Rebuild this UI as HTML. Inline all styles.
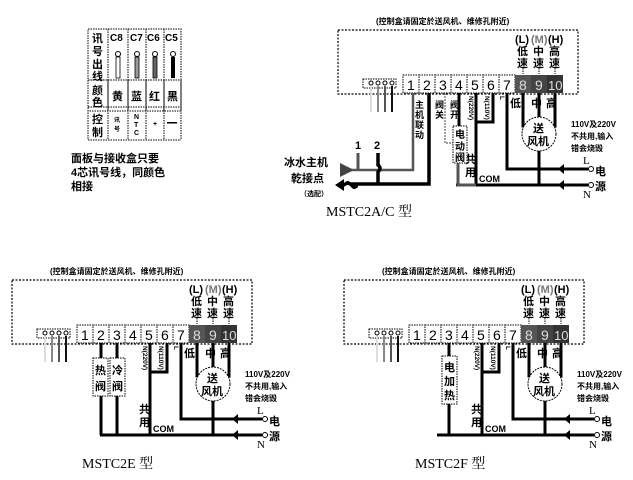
<!DOCTYPE html>
<html><head><meta charset="utf-8"><style>
html,body{margin:0;padding:0;background:#fff;}
svg{display:block;}
text{font-family:"Liberation Sans","Noto Sans CJK SC",sans-serif;font-weight:bold;fill:#000;}
.s{font-size:8px;}
.m{font-size:11px;}
.ser{font-family:"Liberation Serif","Noto Serif CJK SC",serif;font-weight:normal;font-size:14px;}
</style></head><body>
<svg width="633" height="480" viewBox="0 0 633 480" xmlns="http://www.w3.org/2000/svg">
<defs>
<g id="common">
  <text x="50" y="274" class="s">(控制盒请固定於送风机、维修孔附近)</text>
  <rect x="12" y="280" width="240" height="64" fill="none" stroke="#000" stroke-width="1.2" stroke-dasharray="2,1.5"/>
  <text x="189" y="293" class="m">(L)</text><text x="205" y="293" class="m" style="fill:#777">(M)</text><text x="222" y="293" class="m">(H)</text>
  <text x="191" y="305" class="m">低</text><text x="207" y="305" class="m">中</text><text x="223" y="305" class="m">高</text>
  <text x="191" y="317" class="m">速</text><text x="207" y="317" class="m">速</text><text x="223" y="317" class="m">速</text>
  <g stroke="#000" stroke-width="1" stroke-dasharray="1.5,1"><line x1="197" y1="318" x2="197" y2="324"/><line x1="213" y1="318" x2="213" y2="324"/><line x1="229" y1="318" x2="229" y2="324"/></g>
  <rect x="37" y="329" width="33" height="9" fill="#fff" stroke="#000" stroke-dasharray="1.5,1"/>
  <g fill="#fff" stroke="#000"><circle cx="45" cy="333" r="2"/><circle cx="52" cy="333" r="2"/><circle cx="59" cy="333" r="2"/><circle cx="66" cy="333" r="2"/></g>
  <g stroke-width="2"><line x1="45" y1="336" x2="45" y2="362" stroke="#ddd"/><line x1="52" y1="336" x2="52" y2="362" stroke="#888"/><line x1="59" y1="336" x2="59" y2="362" stroke="#555"/><line x1="66" y1="336" x2="66" y2="362" stroke="#111"/></g>
  <g stroke="#000" stroke-width="1" stroke-dasharray="1.5,1" fill="#fff">
    <rect x="77" y="325" width="16" height="18"/><rect x="93" y="325" width="16" height="18"/><rect x="109" y="325" width="16" height="18"/><rect x="125" y="325" width="16" height="18"/><rect x="141" y="325" width="16" height="18"/><rect x="157" y="325" width="16" height="18"/><rect x="173" y="325" width="16" height="18"/>
  </g>
  <rect x="189" y="325" width="16" height="18" fill="#555"/><rect x="205" y="325" width="16" height="18" fill="#444"/><rect x="221" y="325" width="16" height="18" fill="#333"/>
  <text x="81" y="340" style="font-weight:normal;font-size:14px">1</text><text x="97" y="340" style="font-weight:normal;font-size:14px">2</text><text x="113" y="340" style="font-weight:normal;font-size:14px">3</text><text x="129" y="340" style="font-weight:normal;font-size:14px">4</text><text x="145" y="340" style="font-weight:normal;font-size:14px">5</text><text x="161" y="340" style="font-weight:normal;font-size:14px">6</text><text x="177" y="340" style="font-weight:normal;font-size:14px">7</text>
  <text x="193" y="340" style="font-weight:normal;font-size:14px;fill:#ddd">8</text><text x="209" y="340" style="font-weight:normal;font-size:14px;fill:#ddd">9</text><text x="222" y="340" style="font-weight:normal;font-size:13px;fill:#ddd">10</text>
  <text transform="translate(143,346) rotate(90)" style="font-size:6.5px">N(220V)</text>
  <text transform="translate(159,346) rotate(90)" style="font-size:6.5px">N(110V)</text>
  <text transform="translate(174,346) rotate(90)" style="font-size:6.5px">L</text>
  <path d="M150,343 V436" stroke="#000" stroke-width="3" fill="none"/>
  <path d="M167,343 V372 H150" stroke="#000" stroke-width="3" fill="none"/>
  <text x="139" y="413" class="m">共</text><text x="139" y="426" class="m">用</text>
  <text x="153" y="432" style="font-size:9px">COM</text>
  <text x="184" y="357" class="m">低</text><text x="205" y="357" class="m">中</text><text x="220" y="357" class="m">高</text>
  <path d="M197,343 V376 H201" stroke="#000" stroke-width="3" fill="none"/>
  <path d="M213,343 V368" stroke="#000" stroke-width="3" fill="none"/>
  <path d="M229,343 V376 H225" stroke="#000" stroke-width="3" fill="none"/>
  <circle cx="213" cy="384" r="17" fill="#fff" stroke="#000" stroke-dasharray="2,1"/>
  <text x="207" y="382" class="m">送</text><text x="201" y="395" class="m">风机</text>
  <text x="245" y="377" class="s">110V及220V</text><text x="245" y="389" class="s">不共用,输入</text><text x="245" y="401" class="s">错会烧毁</text>
  <path d="M181,343 V419 H262" stroke="#000" stroke-width="3" fill="none"/>
  <path d="M213,401 V435" stroke="#000" stroke-width="3" fill="none"/>
  <path d="M90,435 H262" stroke="#000" stroke-width="3" fill="none"/>
  <path d="M232,419 l6,-5 v10 z M232,435 l6,-5 v10 z" fill="#000"/>
  <circle cx="265" cy="419" r="2.5" fill="#fff" stroke="#000"/><circle cx="265" cy="435" r="2.5" fill="#fff" stroke="#000"/>
  <text x="257" y="414" class="ser" style="font-size:11px">L</text><text x="257" y="448" class="ser" style="font-size:11px">N</text>
  <text x="269" y="425" class="m">电</text><text x="269" y="440" class="m">源</text>
</g>
</defs>

<g stroke="#000" stroke-width="1" stroke-dasharray="1.5,1" fill="none">
  <rect x="88" y="29" width="93" height="82"/>
  <line x1="88" y1="80" x2="181" y2="80"/><line x1="88" y1="107" x2="181" y2="107"/>
  <line x1="108" y1="29" x2="108" y2="111"/><line x1="128" y1="29" x2="128" y2="111"/><line x1="146" y1="29" x2="146" y2="111"/><line x1="164" y1="29" x2="164" y2="111"/>
  <line x1="88" y1="80" x2="88" y2="140"/><line x1="108" y1="80" x2="108" y2="140"/><line x1="128" y1="80" x2="128" y2="140"/><line x1="146" y1="80" x2="146" y2="140"/><line x1="164" y1="80" x2="164" y2="140"/><line x1="181" y1="80" x2="181" y2="140"/>
  <line x1="88" y1="140" x2="181" y2="140"/>
</g>
<text x="92" y="42" class="m">讯</text><text x="92" y="55" class="m">号</text><text x="92" y="68" class="m">出</text><text x="92" y="80" class="m">线</text>
<text x="92" y="94" class="m">颜</text><text x="92" y="106" class="m">色</text>
<text x="92" y="123" class="m">控</text><text x="92" y="136" class="m">制</text>
<text x="110" y="41" style="font-size:10px">C8</text><text x="130" y="41" style="font-size:10px">C7</text><text x="147" y="41" style="font-size:10px">C6</text><text x="165" y="41" style="font-size:10px">C5</text>
<g stroke="#000" fill="#fff"><circle cx="118" cy="54" r="2.5"/><circle cx="137" cy="54" r="2.5"/><circle cx="155" cy="54" r="2.5"/><circle cx="173" cy="54" r="2.5"/></g>
<rect x="116" y="57" width="4" height="21" fill="#fff" stroke="#000" stroke-width="0.8"/>
<rect x="135" y="57" width="4" height="21" fill="#999" stroke="#000" stroke-width="0.8"/>
<rect x="153" y="57" width="4" height="21" fill="#666" stroke="#000" stroke-width="0.8"/>
<rect x="171" y="57" width="4" height="21" fill="#000"/>
<text x="112" y="100" class="m">黄</text><text x="131" y="100" class="m">蓝</text><text x="149" y="100" class="m">红</text><text x="167" y="100" class="m">黑</text>
<text x="114" y="122" style="font-size:6px">讯</text><text x="114" y="131" style="font-size:6px">号</text>
<text x="134" y="119" style="font-size:7px">N</text><text x="134" y="127" style="font-size:7px">T</text><text x="134" y="135" style="font-size:7px">C</text>
<text x="153" y="126" style="font-size:7px">+</text><rect x="167" y="122" width="10" height="1.5" fill="#000"/>
<text x="71" y="162" style="font-size:11px">面板与接收盒只要</text>
<text x="71" y="176" style="font-size:11px">4芯讯号线，同颜色</text>
<text x="71" y="190" style="font-size:11px">相接</text>

<!-- top diagram -->
<use href="#common" transform="translate(326,-250)"/>
<rect x="405" y="182" width="51" height="6" fill="#fff"/>
<path d="M413,93 V170 H350" stroke="#555" stroke-width="2.5" fill="none"/>
<path d="M429,93 V184 H350" stroke="#000" stroke-width="3.5" fill="none"/>
<text x="415" y="108" style="font-size:9px">主</text><text x="415" y="118" style="font-size:9px">机</text><text x="415" y="128" style="font-size:9px">联</text><text x="415" y="138" style="font-size:9px">动</text>
<text x="355" y="149" class="m">1</text><text x="374" y="149" class="m">2</text>
<line x1="358" y1="153" x2="358" y2="170" stroke="#555" stroke-width="3"/>
<path d="M378,153 V165 q4,3 0,7 V185" stroke="#000" stroke-width="3.5" fill="none"/>
<path d="M340,163 l12,6 v2 l-12,6 z" fill="#444"/>
<path d="M335,185 l9,-6 v4 q4,-4 7,0 q3,4 7,0 v4 q-4,4 -7,0 q-3,-4 -7,0 v4 z" fill="#000"/>
<text x="284" y="166" class="m">冰水主机</text><text x="291" y="182" class="m">乾接点</text>
<text x="300" y="196" style="font-size:7px">（选配）</text>
<text x="435" y="108" style="font-size:9px">阀</text><text x="435" y="118" style="font-size:9px">关</text>
<text x="450" y="108" style="font-size:9px">阀</text><text x="450" y="118" style="font-size:9px">开</text>
<path d="M445,93 V143 H453" stroke="#666" stroke-width="1.2" stroke-dasharray="2,1" fill="none"/>
<path d="M459,93 V126" stroke="#000" stroke-width="3" fill="none"/>
<rect x="453" y="126" width="14" height="37" fill="#fff" stroke="#000" stroke-dasharray="1.5,1"/>
<text x="455" y="138" style="font-size:10px">电</text><text x="455" y="150" style="font-size:10px">动</text><text x="455" y="161" style="font-size:10px">阀</text>
<path d="M458,163 V185 H476" stroke="#555" stroke-width="3" fill="none"/>
<text x="326" y="216" class="ser">MSTC2A/C 型</text>

<!-- bottom left -->
<use href="#common"/>
<rect x="80" y="432" width="20" height="6" fill="#fff"/>
<path d="M101,343 V435 M117,343 V435" stroke="#000" stroke-width="3" fill="none"/>
<path d="M100,435 H150" stroke="#000" stroke-width="3"/>
<rect x="93" y="358" width="15" height="38" fill="#fff" stroke="#000" stroke-dasharray="1.5,1"/>
<rect x="110" y="358" width="15" height="38" fill="#fff" stroke="#000" stroke-dasharray="1.5,1"/>
<text x="95" y="374" class="m">热</text><text x="95" y="390" class="m">阀</text>
<text x="112" y="374" class="m">冷</text><text x="112" y="390" class="m">阀</text>
<text x="82" y="468" class="ser">MSTC2E 型</text>

<!-- bottom right -->
<use href="#common" transform="translate(332,0)"/>
<rect x="410" y="432" width="27" height="6" fill="#fff"/>
<path d="M449,343 V435 H462" stroke="#000" stroke-width="3" fill="none"/>
<rect x="442" y="356" width="15" height="48" fill="#fff" stroke="#000" stroke-dasharray="1.5,1"/>
<text x="444" y="371" class="m">电</text><text x="444" y="385" class="m">加</text><text x="444" y="399" class="m">热</text>
<text x="415" y="468" class="ser">MSTC2F 型</text>
</svg>
</body></html>
